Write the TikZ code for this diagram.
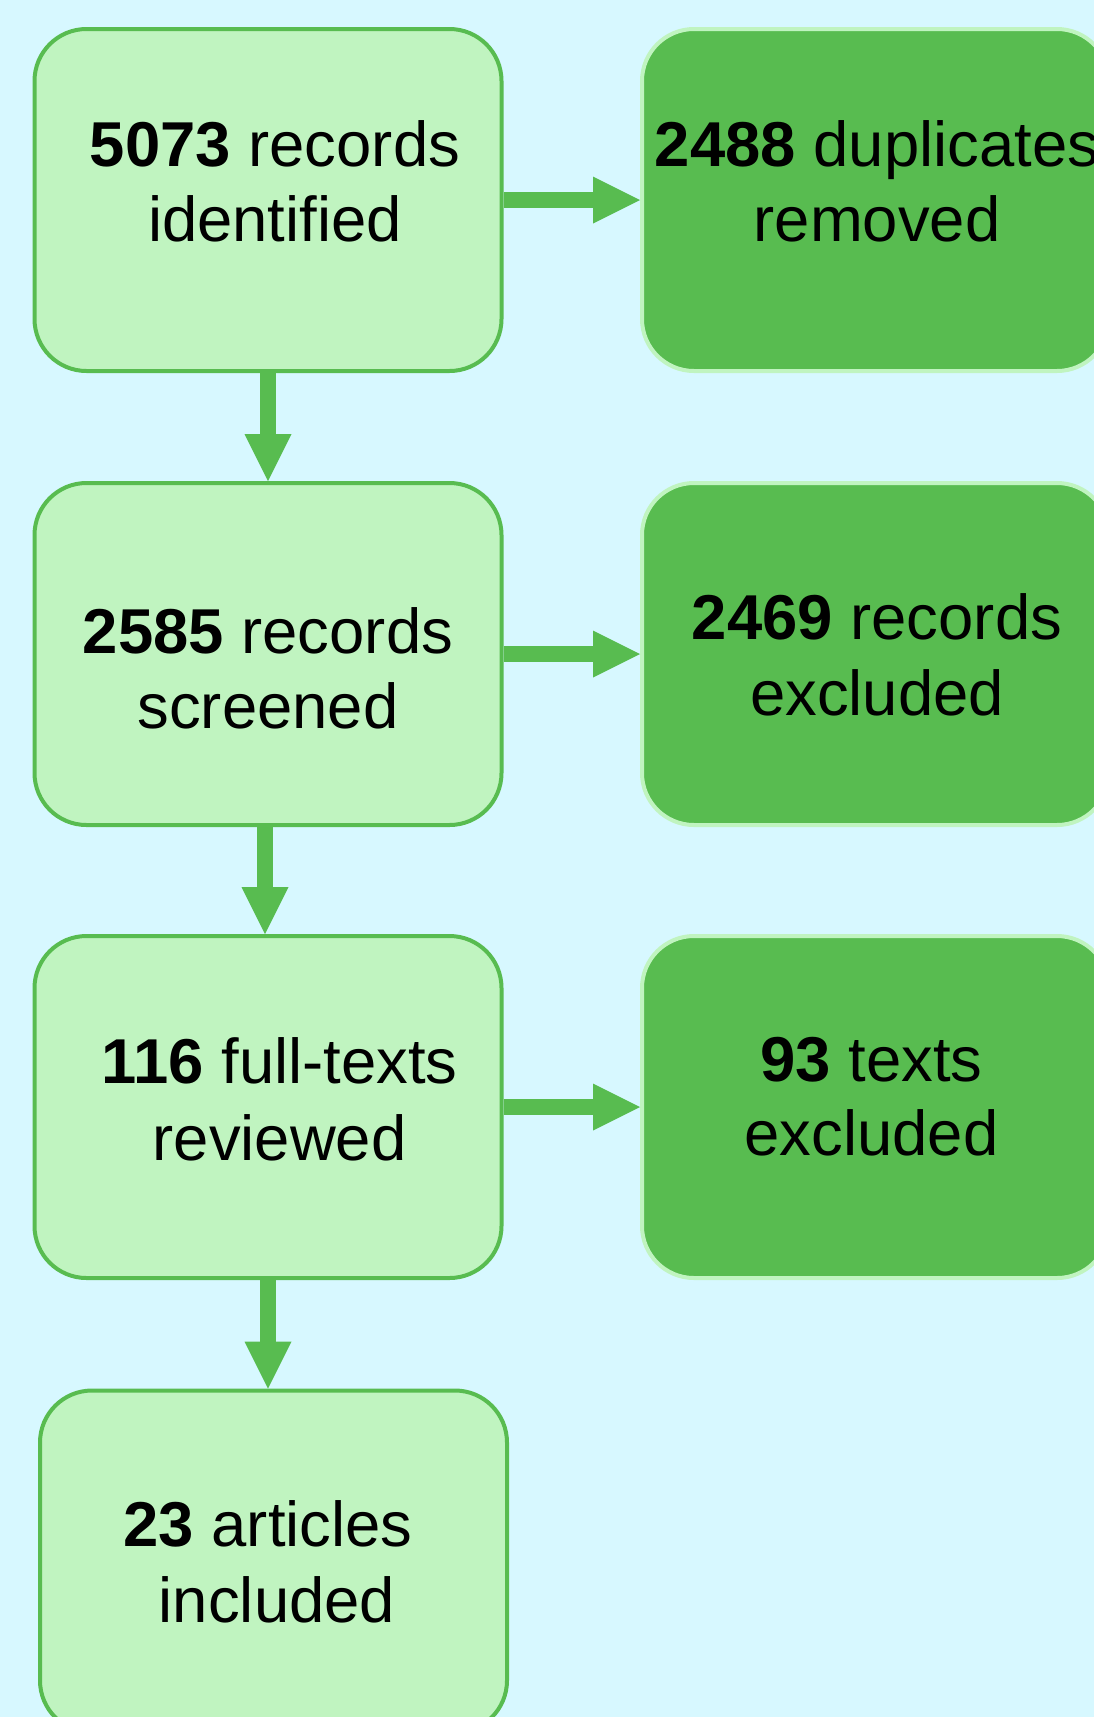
\documentclass[tikz,border=0pt]{standalone}
\usepackage{fontspec}
\setmainfont{Liberation Sans}
\usetikzlibrary{arrows.meta}
\definecolor{bgc}{RGB}{215,248,255}
\definecolor{lgc}{RGB}{192,244,192}
\definecolor{grc}{RGB}{88,188,80}
\begin{document}
\begin{tikzpicture}[x=1pt,y=-1pt,
  lbox/.style={draw=grc, fill=lgc, line width=4pt, rounded corners=52pt,
    minimum width=467pt, minimum height=342pt, inner sep=0pt},
  dbox/.style={draw=lgc, fill=grc, line width=4pt, rounded corners=52pt,
    minimum width=467pt, minimum height=342pt, inner sep=0pt},
  txt/.style={anchor=base, inner sep=0pt, font=\fontsize{63.4pt}{75.5pt}\selectfont},
  arr/.style={draw=grc, line width=16pt, -{Triangle[length=47pt,width=47pt,line width=0pt]}}
]
\fill[bgc] (0,0) rectangle (1094,1717);
\useasboundingbox (0,0) rectangle (1094,1717);
\clip (0,0) rectangle (1094,1717);

\node[lbox] (b1) at (268,200) {};
\node[dbox] (b2) at (875.5,200) {};
\node[lbox] (b3) at (268,654) {};
\node[dbox] (b4) at (875.5,654) {};
\node[lbox] (b5) at (268,1107) {};
\node[dbox] (b6) at (875.5,1107) {};
\node[lbox] (b7) at (273.5,1561.5) {};

\draw[arr] (b1.east) -- (b2.west);
\draw[arr] (b1.south) -- (b3.north);
\draw[arr] (b3.east) -- (b4.west);
\draw[arr] ([xshift=-3pt]b3.south) -- ([xshift=-3pt]b3.south |- b5.north);
\draw[arr] (b5.east) -- (b6.west);
\draw[arr] (b5.south) -- (b5.south |- b7.north);

\node[txt] (t1a) at (275,166) {\textbf{5073} records};
\node[txt] (t1b) at (275,241) {identified};
\node[txt] (t2a) at (877,166) {\textbf{2488} duplicates};
\node[txt] (t2b) at (877,241) {removed};
\node[txt] (t3a) at (268,653) {\textbf{2585} records};
\node[txt] (t3b) at (268,728) {screened};
\node[txt] (t4a) at (877,639) {\textbf{2469} records};
\node[txt] (t4b) at (877,715) {excluded};
\node[txt] (t5a) at (279.5,1083) {\textbf{116} full-texts};
\node[txt] (t5b) at (279.5,1160) {reviewed};
\node[txt] (t6a) at (871.5,1081) {\textbf{93} texts};
\node[txt] (t6b) at (871.5,1155) {excluded};
\node[txt] (t7a) at (268,1546) {\textbf{23} articles};
\node[txt] (t7b) at (277,1622) {included};
\end{tikzpicture}
\end{document}
